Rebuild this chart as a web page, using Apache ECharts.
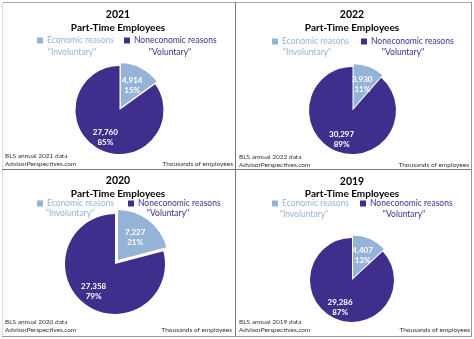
<!DOCTYPE html>
<html>
<head>
<meta charset="utf-8">
<script src="https://cdn.jsdelivr.net/npm/echarts@6/dist/echarts.min.js"></script>
<style>
html,body{margin:0;padding:0;background:#fff;}
#chart{width:474px;height:339px;}
</style>
</head>
<body>
<div id="chart"></div>
<script>
// ---- data ----
const years = ['2021', '2022', '2020', '2019'];
const categories = ['Economic reasons', 'Noneconomic reasons'];
const categoryNotes = ['"Involuntary"', '"Voluntary"'];
const economic = [4914, 3930, 7227, 4407];
const noneconomic = [27760, 30297, 27358, 29286];
const chartTitle = 'Part-Time Employees';
const unitsNote = 'Thousands of employees';
const siteNote = 'AdvisorPerspectives.com';

// ---- layout (positions/styles only) ----
const colors = ['#95B3D7', '#3F2E8C'];
const FONT = 'Lato, "Open Sans", sans-serif';
const panels = [
  {cx:119.5, cy:110, r:44, explode:3, tx:118, ty:15, ty2:28, leg:[37,124], legY:41, notes:[72,170], notesY:52, fl:5, fy:[156,164], fr:233},
  {cx:352.5, cy:110.5, r:43.5, explode:3, tx:352, ty:15, ty2:28, leg:[272,361], legY:42, notes:[307,403], notesY:52, fl:239, fy:[157,165], fr:469},
  {cx:115, cy:264, r:50, explode:5, tx:118, ty:181, ty2:194, leg:[37,128], legY:204, notes:[70,168], notesY:213, fl:5, fy:[322,330], fr:232},
  {cx:352, cy:280, r:42, explode:2.5, tx:352, ty:182, ty2:194, leg:[272,360], legY:204, notes:[304,404], notesY:214, fl:239, fy:[322,330], fr:470}
];

const series = [];
const legends = [];
const graphics = [];

years.forEach((yr, i) => {
  const p = panels[i];
  const vals = [economic[i], noneconomic[i]];
  const total = vals[0] + vals[1];
  let cum = 0;
  const data = vals.map((v, j) => {
    const s = cum / total;
    cum += v;
    const e = cum / total;
    const mid = (s + e) / 2 * Math.PI * 2;
    const k = 0.14 * p.r;
    return {
      name: categories[j],
      value: v,
      selected: j === 0,
      itemStyle: {color: colors[j]},
      label: {offset: [k * Math.sin(mid), -k * Math.cos(mid)]}
    };
  });
  series.push({
    type: 'pie',
    center: [p.cx, p.cy],
    radius: p.r,
    startAngle: 90,
    clockwise: true,
    selectedMode: 'single',
    selectedOffset: p.explode,
    avoidLabelOverlap: false,
    animation: false,
    emphasis: {disabled: true},
    itemStyle: {borderWidth: 0},
    label: {
      show: true,
      position: 'inside',
      color: '#fff',
      fontFamily: FONT,
      fontWeight: 'bold',
      fontSize: 8,
      lineHeight: 10,
      formatter: (prm) => prm.value.toLocaleString('en-US') + '\n' + Math.round(prm.percent) + '%'
    },
    labelLine: {show: false},
    data: data
  });

  categories.forEach((c, j) => {
    legends.push({
      left: p.leg[j],
      top: p.legY - 5,
      padding: 0,
      icon: 'rect',
      itemWidth: 6,
      itemHeight: 6,
      itemGap: 4,
      selectedMode: false,
      textStyle: {fontFamily: FONT, fontSize: 8.5, color: colors[j], padding: [0, 0, 0, -1]},
      data: [{name: c}]
    });
    graphics.push({
      type: 'text', x: p.notes[j], y: p.notesY,
      style: {text: categoryNotes[j], fill: colors[j], font: '8.5px ' + FONT, textAlign: 'center', textVerticalAlign: 'middle'}
    });
  });

  graphics.push({type: 'text', x: p.tx, y: p.ty,
    style: {text: yr, fill: '#000', font: 'bold 10.5px ' + FONT, textAlign: 'center', textVerticalAlign: 'middle'}});
  graphics.push({type: 'text', x: p.tx, y: p.ty2,
    style: {text: chartTitle, fill: '#000', font: 'bold 10px ' + FONT, textAlign: 'center', textVerticalAlign: 'middle'}});
  graphics.push({type: 'text', x: p.fl, y: p.fy[0],
    style: {text: 'BLS annual ' + yr + ' data', fill: '#333', font: '6.5px ' + FONT, textAlign: 'left', textVerticalAlign: 'middle'}});
  graphics.push({type: 'text', x: p.fl, y: p.fy[1],
    style: {text: siteNote, fill: '#333', font: '6.5px ' + FONT, textAlign: 'left', textVerticalAlign: 'middle'}});
  graphics.push({type: 'text', x: p.fr, y: p.fy[1],
    style: {text: unitsNote, fill: '#333', font: '6.5px ' + FONT, textAlign: 'right', textVerticalAlign: 'middle'}});
});

// panel borders
const borderLines = [
  {x1:2, y1:2.5, x2:472, y2:2.5, c:'#aaa'},
  {x1:2.5, y1:2, x2:2.5, y2:337, c:'#ddd'},
  {x1:235.5, y1:2, x2:235.5, y2:337, c:'#777'},
  {x1:2, y1:169.5, x2:472, y2:169.5, c:'#777'},
  {x1:471.5, y1:2, x2:471.5, y2:337, c:'#999'},
  {x1:2, y1:336.5, x2:472, y2:336.5, c:'#999'}
];
borderLines.forEach(b => graphics.push({type:'line', shape:{x1:b.x1,y1:b.y1,x2:b.x2,y2:b.y2}, style:{stroke:b.c, lineWidth:1}, silent:true}));

const chart = echarts.init(document.getElementById('chart'), null, {renderer: 'canvas'});
chart.setOption({
  backgroundColor: '#fff',
  animation: false,
  legend: legends,
  series: series,
  graphic: graphics
});
</script>
</body>
</html>
